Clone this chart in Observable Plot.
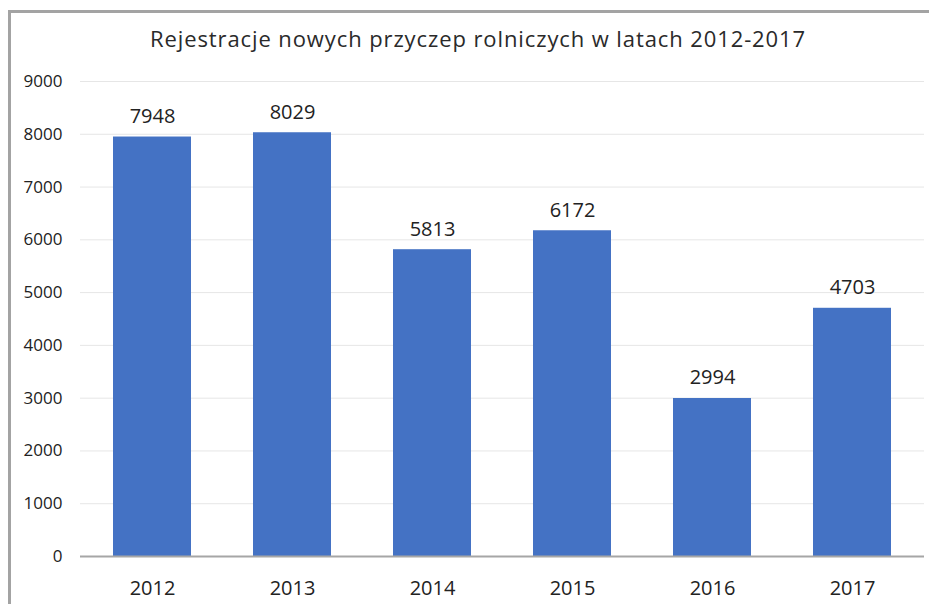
<!DOCTYPE html>
<html>
<head>
<meta charset="utf-8">
<script src="https://cdn.jsdelivr.net/npm/d3@7"></script>
<script src="https://cdn.jsdelivr.net/npm/@observablehq/plot@0.6"></script>
<style>
  html, body { margin: 0; padding: 0; background: #fff; }
  #wrap { position: relative; width: 929px; height: 604px; overflow: hidden; font-family: "Open Sans", sans-serif; }
  #frame { position: absolute; left: 8px; top: 10px; width: 940px; height: 620px; border-top: 3px solid #a3a3a3; border-left: 3px solid #a3a3a3; box-sizing: border-box; }
  #title { position: absolute; top: 23px; left: 478px; transform: translateX(-50%); white-space: nowrap; font-size: 22px; letter-spacing: 0.9px; line-height: 30px; color: #2a2a2a; }
  #chart { position: absolute; left: 0; top: 0; }
</style>
</head>
<body>
<div id="wrap">
  <div id="frame"></div>
  <div id="chart"></div>
  <div id="title">Rejestracje nowych przyczep rolniczych w latach 2012-2017</div>
</div>
<script>
const years = ["2012", "2013", "2014", "2015", "2016", "2017"];
const registrations = [7948, 8029, 5813, 6172, 2994, 4703];
const yTicks = [0, 1000, 2000, 3000, 4000, 5000, 6000, 7000, 8000, 9000];

const data = years.map((y, i) => ({year: y, value: registrations[i]}));

const chart = Plot.plot({
  width: 929,
  height: 604,
  marginTop: 81,
  marginBottom: 48,
  marginLeft: 80,
  marginRight: 5,
  style: {fontFamily: "Open Sans, sans-serif", background: "transparent", color: "#333"},
  x: {domain: years, paddingInner: 0.445, paddingOuter: 0.2225, label: null},
  y: {domain: [0, 9000], label: null},
  marks: [
    Plot.gridY(yTicks, {stroke: "#e6e6e6", strokeOpacity: 1, strokeWidth: 1}),
    Plot.barY(data, {x: "year", y: "value", fill: "#4472C4"}),
    Plot.ruleY([0], {stroke: "#a6a6a6", strokeWidth: 2}),
    Plot.text(data, {x: "year", y: "value", text: d => String(d.value), dy: -14, lineAnchor: "bottom", fontSize: 20, fill: "#222"}),
    Plot.axisY({ticks: yTicks, tickSize: 0, tickPadding: 18, fontSize: 17, tickFormat: d => String(d), fill: "#222"}),
    Plot.axisX({tickSize: 0, tickPadding: 24, fontSize: 20, fill: "#222"})
  ]
});
document.getElementById("chart").appendChild(chart);
</script>
</body>
</html>
